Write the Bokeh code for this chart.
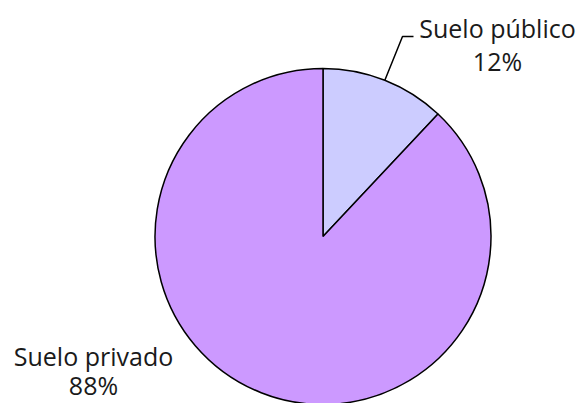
import math
from bokeh.plotting import figure
from bokeh.models import Range1d
from bokeh.core.properties import value
from bokeh.embed import file_html
from bokeh.resources import INLINE

categories = ["Suelo público", "Suelo privado"]
percents = [12, 88]
colors = ["#CCCCFF", "#CC99FF"]

W, H = 583, 403
p = figure(width=W, height=H, output_backend="svg", toolbar_location=None,
           x_range=Range1d(0, W), y_range=Range1d(0, H),
           min_border=0)
p.axis.visible = False
p.grid.visible = False
p.outline_line_color = None
p.background_fill_color = "white"

cx, cy, r = 322.5, H - 236, 168
total = sum(percents)
start = math.pi / 2
mids = []
for cat, pc, col in zip(categories, percents, colors):
    sweep = 2 * math.pi * pc / total
    end = start - sweep
    p.wedge(x=cx, y=cy, radius=r, start_angle=start, end_angle=end,
            direction="clock", fill_color=col, line_color="black", line_width=1.5)
    mids.append((start + end) / 2)
    start = end

# leader line for público
m = mids[0]
x0, y0 = cx + r * math.cos(m), cy + r * math.sin(m)
p.line(x=[x0, 402, 413], y=[y0, H - 36, H - 36], line_color="black", line_width=1.5)

font = value("Open Sans")
p.text(x=[497, 497], y=[H - 27, H - 60], text=[categories[0], f"{percents[0]}%"],
       text_align="center", text_baseline="middle", text_font=font,
       text_font_size="25px", text_color="#1a1a1a")
p.text(x=[93, 93], y=[H - 355, H - 384], text=[categories[1], f"{percents[1]}%"],
       text_align="center", text_baseline="middle", text_font=font,
       text_font_size="25px", text_color="#1a1a1a")

open("out.html", "w").write(file_html(p, INLINE))
